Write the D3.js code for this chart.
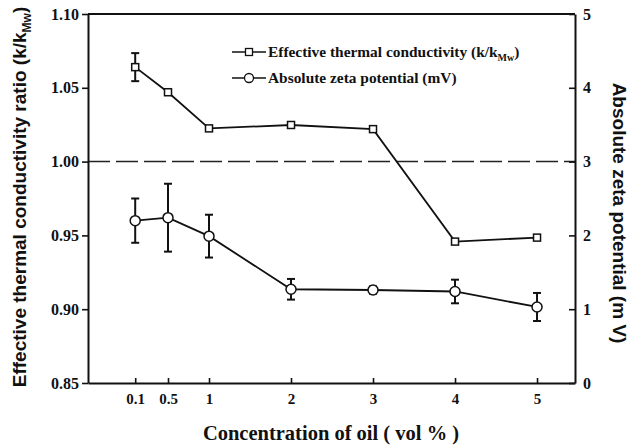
<!DOCTYPE html>
<html>
<head>
<meta charset="utf-8">
<script src="https://cdn.jsdelivr.net/npm/d3@7"></script>
<style>
  html, body { margin: 0; padding: 0; background: #fff; }
  svg { display: block; }
</style>
</head>
<body>
<svg id="chart" width="632" height="447"></svg>
<script>
// Oil concentration (vol %)
const concentration = [0.1, 0.5, 1, 2, 3, 4, 5];
// Effective thermal conductivity ratio k/k_Mw (left axis)
const kRatio    = [1.064, 1.047, 1.0225, 1.0248, 1.022, 0.9458, 0.9485];
const kRatioErr = [0.0095, 0.001, 0.0012, 0.001, 0.001, 0.001, 0.001];
// Absolute zeta potential in mV (right axis)
const zeta    = [2.20, 2.24, 1.99, 1.27, 1.26, 1.24, 1.03];
const zetaErr = [0.30, 0.46, 0.29, 0.14, 0.05, 0.16, 0.19];

const leftTicks  = [0.85, 0.90, 0.95, 1.00, 1.05, 1.10];
const rightTicks = [0, 1, 2, 3, 4, 5];

const svg = d3.select("#chart");
const M = { left: 88, right: 575, top: 14, bottom: 383 };
const serif = "'Liberation Serif', 'Times New Roman', serif";
const sans  = "'Liberation Sans', Arial, sans-serif";

const x  = d3.scaleLinear().domain([-0.4756, 5.463]).range([M.left, M.right]);
const yL = d3.scaleLinear().domain([0.85, 1.10]).range([M.bottom, M.top]);
const yR = d3.scaleLinear().domain([0, 5]).range([M.bottom, M.top]);

// frame: top border
svg.append("line")
  .attr("x1", M.left).attr("x2", M.right)
  .attr("y1", M.top).attr("y2", M.top)
  .attr("stroke", "#111").attr("stroke-width", 2);

// reference line at ratio 1.00
svg.append("line")
  .attr("x1", M.left).attr("x2", M.right)
  .attr("y1", yL(1.0)).attr("y2", yL(1.0))
  .attr("stroke", "#222").attr("stroke-width", 1.5)
  .attr("stroke-dasharray", "22,6");

function styleAxis(g, size) {
  g.select(".domain").attr("stroke", "#111").attr("stroke-width", 2);
  g.selectAll(".tick line").attr("stroke", "#111").attr("stroke-width", 1.6);
  g.selectAll(".tick text")
    .attr("fill", "#111")
    .style("font-family", serif)
    .style("font-weight", "bold")
    .style("font-size", size + "px");
}

// left axis
const gL = svg.append("g").attr("transform", `translate(${M.left},0)`)
  .call(d3.axisLeft(yL).tickValues(leftTicks).tickFormat(d3.format(".2f"))
    .tickSizeInner(6).tickSizeOuter(0).tickPadding(3));
styleAxis(gL, 16);

// right axis (ticks point inward)
const gR = svg.append("g").attr("transform", `translate(${M.right},0)`)
  .call(d3.axisRight(yR).tickValues(rightTicks).tickFormat(d3.format("d"))
    .tickSizeInner(-6).tickSizeOuter(0).tickPadding(8));
styleAxis(gR, 16);
gR.selectAll(".tick text").attr("x", 8);

// bottom axis (ticks point inward)
const gB = svg.append("g").attr("transform", `translate(0,${M.bottom})`)
  .call(d3.axisBottom(x).tickValues(concentration).tickFormat(d => String(d))
    .tickSizeInner(-5).tickSizeOuter(0).tickPadding(8));
styleAxis(gB, 15);
gB.selectAll(".tick text").attr("y", 10);

// error bars
function errorBars(vals, errs, y, cls) {
  const cap = 4;
  const g = svg.append("g").attr("class", cls)
    .attr("stroke", "#111").attr("stroke-width", 2);
  concentration.forEach((c, i) => {
    const cx = x(c), top = y(vals[i] + errs[i]), bot = y(vals[i] - errs[i]);
    g.append("line").attr("x1", cx).attr("x2", cx).attr("y1", top).attr("y2", bot);
    g.append("line").attr("x1", cx - cap).attr("x2", cx + cap).attr("y1", top).attr("y2", top);
    g.append("line").attr("x1", cx - cap).attr("x2", cx + cap).attr("y1", bot).attr("y2", bot);
  });
}
errorBars(kRatio, kRatioErr, yL, "err-k");
errorBars(zeta, zetaErr, yR, "err-z");

// series lines
const lineK = d3.line().x((d, i) => x(concentration[i])).y(d => yL(d));
const lineZ = d3.line().x((d, i) => x(concentration[i])).y(d => yR(d));
svg.append("path").datum(kRatio).attr("d", lineK)
  .attr("fill", "none").attr("stroke", "#111").attr("stroke-width", 1.8);
svg.append("path").datum(zeta).attr("d", lineZ)
  .attr("fill", "none").attr("stroke", "#111").attr("stroke-width", 1.8);

// markers
const sq = 7;
svg.append("g").selectAll("rect").data(kRatio).join("rect")
  .attr("x", (d, i) => x(concentration[i]) - sq / 2)
  .attr("y", d => yL(d) - sq / 2)
  .attr("width", sq).attr("height", sq)
  .attr("fill", "#fff").attr("stroke", "#111").attr("stroke-width", 1.5);
svg.append("g").selectAll("circle").data(zeta).join("circle")
  .attr("cx", (d, i) => x(concentration[i]))
  .attr("cy", d => yR(d))
  .attr("r", 5)
  .attr("fill", "#fff").attr("stroke", "#111").attr("stroke-width", 1.5);

// legend
const legend = svg.append("g").attr("transform", "translate(232,0)");
[
  { y: 52, shape: "square", label: "Effective thermal conductivity (k/k", sub: "Mw", tail: ")" },
  { y: 78, shape: "circle", label: "Absolute zeta potential (mV)" }
].forEach(item => {
  legend.append("line").attr("x1", 0).attr("x2", 34)
    .attr("y1", item.y).attr("y2", item.y)
    .attr("stroke", "#111").attr("stroke-width", 1.6);
  if (item.shape === "square") {
    legend.append("rect").attr("x", 17 - 3.5).attr("y", item.y - 3.5)
      .attr("width", 7).attr("height", 7)
      .attr("fill", "#fff").attr("stroke", "#111").attr("stroke-width", 1.3);
  } else {
    legend.append("circle").attr("cx", 17).attr("cy", item.y).attr("r", 4.5)
      .attr("fill", "#fff").attr("stroke", "#111").attr("stroke-width", 1.3);
  }
  const t = legend.append("text").attr("x", 36).attr("y", item.y + 5)
    .style("font-family", serif).style("font-weight", "bold").style("font-size", "15.4px")
    .attr("fill", "#111");
  t.append("tspan").text(item.label);
  if (item.sub) {
    t.append("tspan").attr("dy", 4).style("font-size", "10px").text(item.sub);
    t.append("tspan").attr("dy", -4).text(item.tail);
  }
});

// x axis title
svg.append("text")
  .attr("x", 331).attr("y", 440)
  .attr("text-anchor", "middle")
  .style("font-family", serif).style("font-weight", "bold").style("font-size", "20.5px")
  .attr("fill", "#111")
  .text("Concentration of oil ( vol % )");

// left axis title
const tl = svg.append("text")
  .attr("transform", "translate(26,197) rotate(-90)")
  .attr("text-anchor", "middle")
  .style("font-family", sans).style("font-weight", "bold").style("font-size", "19px")
  .attr("fill", "#111");
tl.append("tspan").text("Effective thermal conductivity ratio (k/k");
tl.append("tspan").attr("dy", 5).style("font-size", "12px").text("Mw");
tl.append("tspan").attr("dy", -5).text(")");

// right axis title
svg.append("text")
  .attr("transform", "translate(613,213) rotate(90)")
  .attr("text-anchor", "middle")
  .style("font-family", sans).style("font-weight", "bold").style("font-size", "19px")
  .attr("fill", "#111")
  .text("Absolute zeta potential (m V)");
</script>
</body>
</html>
